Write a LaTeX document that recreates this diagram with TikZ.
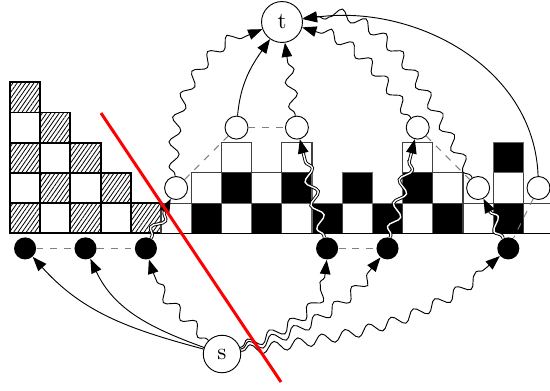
\documentclass[tikz,border=0pt]{standalone}
\usetikzlibrary{decorations.pathmorphing, patterns.meta, arrows.meta}
\begin{document}
\begin{tikzpicture}[x=0.435pt, y=0.435pt,
  opn/.style={circle, draw, fill=white, inner sep=0pt, minimum size=10pt},
  fil/.style={circle, fill=black, inner sep=0pt, minimum size=9.6pt},
  big/.style={circle, draw, fill=white, inner sep=0pt},
  arr/.style={-{Triangle[length=6.2pt,width=4.6pt]}},
  wave/.style={decorate, decoration={snake, amplitude=2.3pt, segment length=10.5pt, pre length=1pt, post length=5.5pt}},
  dwave/.style={wave, double, double distance=0.6pt},
  dsh/.style={dashed, draw=black!50},
  hcell/.style={draw=black, line width=0.8pt, pattern={Lines[angle=55,distance=1.5pt,line width=0.35pt]}},
  ecell/.style={draw=black, line width=0.8pt, fill=white},
  bcell/.style={fill=black, draw=black!60, line width=0.5pt},
  wcell/.style={fill=white, draw=black!75, line width=0.5pt},
  cut/.style={red, line width=1.3pt},
]
\useasboundingbox (0,0) rectangle (550,390);
% cells
\begin{scope}[shift={(10,156.7)}, x=13.137pt, y=13.137pt]
  \foreach \c/\h in {0/5,1/4,2/3,3/2,4/1}{
    \foreach \r in {1,...,\h}{
      \pgfmathtruncatemacro\p{mod(\c+\r-1,2)}
      \ifnum\p=0 \path[hcell] (\c,\r-1) rectangle ++(1,1);
      \else \path[ecell] (\c,\r-1) rectangle ++(1,1);\fi
    }
  }
  \foreach \c/\h in {5/1,6/2,7/3,8/2,9/3,10/1,11/2,12/1,13/3,14/2,15/1,16/3,17/1}{
    \foreach \r in {1,...,\h}{
      \pgfmathtruncatemacro\p{mod(\c+\r-1,2)}
      \ifnum\p=0 \path[bcell] (\c,\r-1) rectangle ++(1,1);
      \else \path[wcell] (\c,\r-1) rectangle ++(1,1);\fi
    }
  }
  \draw[line width=0.7pt] (0,0) -- (18,0);
\end{scope}
% nodes
\node[opn] (o5) at (176.1,202.0) {};
\node[opn] (o7) at (236.5,262.4) {};
\node[opn] (o9) at (296.9,262.4) {};
\node[opn] (o13) at (417.7,262.4) {};
\node[opn] (o15) at (478.1,202.0) {};
\node[opn] (o17) at (538.5,202.0) {};
\node[fil] (f0) at (25.1,141.6) {};
\node[fil] (f2) at (85.5,141.6) {};
\node[fil] (f4) at (145.9,141.6) {};
\node[fil] (f10) at (327.1,141.6) {};
\node[fil] (f12) at (387.5,141.6) {};
\node[fil] (f16) at (508.3,141.6) {};
\node[big, minimum size=17.8pt] (t) at (282,368) {t};
\node[big, minimum size=16.3pt] (s) at (222,36) {s};
% dashed
\draw[dsh] (f0) -- (f2);
\draw[dsh] (f2) -- (f4);
\draw[dsh] (f10) -- (f12);
\draw[dsh] (o7) -- (o9);
\draw[dsh] (o5) -- (o7);
\draw[dsh] (o13) -- (o15);
\draw[dsh] (o17) -- (f16);
% from s
\draw[arr] (s) to[out=165,in=-48] (f0);
\draw[arr] (s) to[out=160,in=-65] (f2);
\draw[arr,wave] (s) to[out=135,in=-75] (f4);
\draw[arr,wave] (s) to[out=20,in=-92] (f10);
\draw[arr,wave] (s) to[out=15,in=-128] (f12);
\draw[arr,wave] (s) to[out=8,in=-138] (f16);
% to t
\draw[arr,wave] (o5) to[out=95,in=200] (t);
\draw[arr] (o7) to[out=85,in=235] (t);
\draw[arr,wave] (o9) -- (t);
\draw[arr,wave] (o13) to[out=125,in=-15] (t);
\draw[arr,wave] (o15) to[out=120,in=10] (t);
\draw[arr] (o17) to[out=92,in=8] (t);
% double waves
\draw[arr,dwave] (f4) -- (o5);
\draw[arr,dwave] (f10) -- (o9);
\draw[arr,dwave] (f12) -- (o13);
\draw[arr,dwave] (f16) -- (o15);
% cut
\coordinate (cutA) at (101,277);
\coordinate (cutB) at (281,8);
\draw[cut] (cutA) -- (cutB);
\end{tikzpicture}
\end{document}
